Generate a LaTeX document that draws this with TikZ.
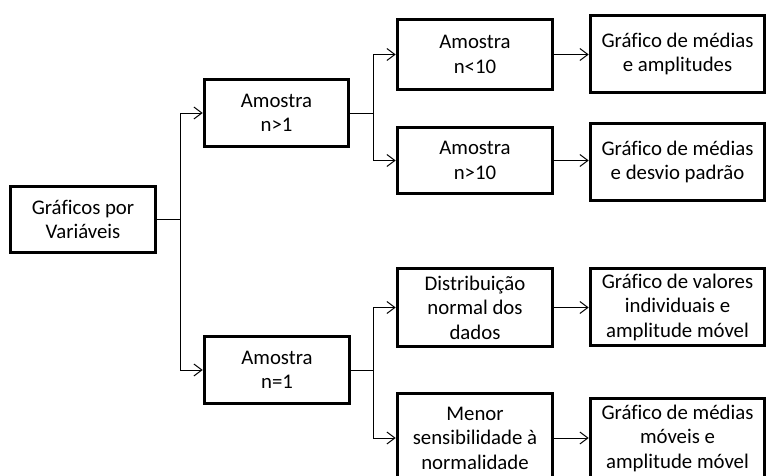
\documentclass[tikz,border=0pt]{standalone}
\usepackage{fontspec}
\setmainfont{Carlito}[Ligatures=NoCommon]
\usetikzlibrary{arrows.meta}
\begin{document}
\begin{tikzpicture}[x=1pt,y=-1pt,
  box/.style={draw=black,line width=3.6pt,fill=white,inner sep=0pt,
    minimum width=#1,align=center,
    font=\fontsize{20.8pt}{24.5pt}\selectfont},
  box/.default=146pt,
  link/.style={draw=black,line width=1pt,
    -{Straight Barb[length=8pt,width=12pt,line width=1pt]}},
  plain/.style={draw=black,line width=1pt}]
\useasboundingbox (0,0) rectangle (766,475);
\clip (0,0) rectangle (766,475);

% root and first split
\node[box=145pt,minimum height=66pt] (root) at (83,219.5) {Gráficos por\\Variáveis};
\node[box=144pt,minimum height=67pt] (a1) at (276.5,113) {Amostra\\n>1};
\node[box=145pt,minimum height=67pt] (a2) at (277,370) {Amostra\\n=1};

% second level
\node[box=155pt,minimum height=70pt] (b1) at (475,54.5) {Amostra\\n<10};
\node[box=155pt,minimum height=66pt] (b2) at (475,160.5) {Amostra\\n>10};
\node[box=155pt,minimum height=78pt] (b3) at (475,307.5) {Distribuição\\normal dos\\dados};
\node[box=155pt,minimum height=89pt] (b4) at (475,438) {Menor\\sensibilidade à\\normalidade};

% chart types
\node[box=174pt,minimum height=77pt] (c1) at (677.5,54) {Gráfico de médias\\e amplitudes};
\node[box=174pt,minimum height=77pt] (c2) at (677.5,162) {Gráfico de médias\\e desvio padrão};
\node[box=174pt,minimum height=77pt] (c3) at (677.5,307) {Gráfico de valores\\individuais e\\amplitude móvel};
\node[box=174pt,minimum height=79pt] (c4) at (677.5,438) {Gráfico de médias\\móveis e\\amplitude móvel};

% branching connectors
\coordinate (j0) at (180,219.5);
\coordinate (j1) at (373,113);
\coordinate (j2) at (373,370);
\draw[plain] (root.east) -- (j0);
\draw[link] (j0) |- (a1.west);
\draw[link] (j0) |- (a2.west);
\draw[plain] (a1.east) -- (j1);
\draw[link] (j1) |- (b1.west);
\draw[link] (j1) |- (b2.west);
\draw[plain] (a2.east) -- (j2);
\draw[link] (j2) |- (b3.west);
\draw[link] (j2) |- (b4.west);

% straight connectors
\draw[link] (b1.east) -- (c1.west |- b1.east);
\draw[link] (b2.east) -- (c2.west |- b2.east);
\draw[link] (b3.east) -- (c3.west |- b3.east);
\draw[link] (b4.east) -- (c4.west |- b4.east);
\end{tikzpicture}
\end{document}
